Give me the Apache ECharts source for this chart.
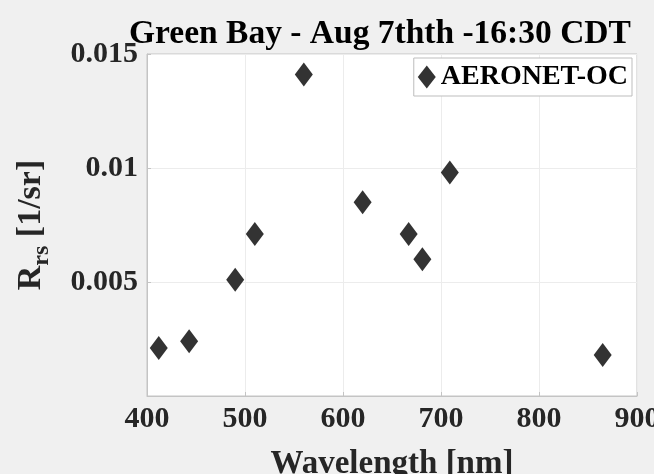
<!DOCTYPE html>
<html>
<head>
<meta charset="utf-8">
<script src="https://cdn.jsdelivr.net/npm/echarts@6/dist/echarts.min.js"></script>
<style>
html,body{margin:0;padding:0;background:#f0f0f0;}
#chart{width:654px;height:474px;}
</style>
</head>
<body>
<div id="chart"></div>
<script>
var wavelengths = [412, 443, 490, 510, 560, 620, 667, 681, 709, 865];
var rrsValues = [0.0021, 0.0024, 0.0051, 0.0071, 0.0141, 0.0085, 0.0071, 0.0060, 0.0098, 0.0018];
var seriesName = 'AERONET-OC';
var titleText = 'Green Bay - Aug 7thth -16:30 CDT';
var xTicks = [400, 500, 600, 700, 800, 900];
var yTicks = [0, 0.005, 0.01, 0.015];

var points = wavelengths.map(function (w, i) { return [w, rrsValues[i]]; });
var font = '"Liberation Serif", "Times New Roman", serif';

var chart = echarts.init(document.getElementById('chart'), null, {renderer: 'canvas'});
chart.setOption({
  backgroundColor: '#f0f0f0',
  animation: false,
  title: {
    text: titleText,
    left: 129,
    top: 17,
    padding: 0,
    textStyle: {fontFamily: font, fontWeight: 'bold', fontSize: 33.5, color: '#000'}
  },
  legend: {
    data: [seriesName],
    right: 22,
    top: 58,
    icon: 'diamond',
    itemWidth: 18,
    itemHeight: 23,
    padding: [5, 4, 5, 4],
    backgroundColor: '#fff',
    borderColor: '#bdbdbd',
    borderWidth: 1,
    borderRadius: 0,
    itemStyle: {opacity: 1},
    textStyle: {fontFamily: font, fontWeight: 'bold', fontSize: 28, color: '#000'}
  },
  grid: {
    left: 147, right: 17, top: 54, bottom: 78,
    outerBoundsMode: 'none',
    containLabel: false,
    show: true, backgroundColor: '#fff', borderColor: '#c4c4c4', borderWidth: 1
  },
  xAxis: {
    type: 'value',
    min: xTicks[0], max: xTicks[xTicks.length - 1], interval: 100,
    name: 'Wavelength [nm]',
    nameLocation: 'middle',
    nameGap: 52,
    nameTextStyle: {fontFamily: font, fontWeight: 'bold', fontSize: 33, color: '#262626'},
    axisLine: {show: true, lineStyle: {color: '#c4c4c4'}},
    axisTick: {show: true, inside: true, length: 4, lineStyle: {color: '#c4c4c4'}},
    axisLabel: {fontFamily: font, fontWeight: 'bold', fontSize: 30, color: '#262626', margin: 8},
    splitLine: {show: true, lineStyle: {color: '#ececec'}}
  },
  yAxis: {
    type: 'value',
    min: yTicks[0], max: yTicks[yTicks.length - 1], interval: 0.005,
    name: '{b|R}{s|rs}{b| [1/sr]}',
    nameLocation: 'middle',
    nameRotate: 90,
    nameGap: 93,
    nameTextStyle: {
      fontFamily: font, fontWeight: 'bold', color: '#262626',
      rich: {
        b: {fontFamily: font, fontWeight: 'bold', fontSize: 34, color: '#262626', lineHeight: 46, verticalAlign: 'middle'},
        s: {fontFamily: font, fontWeight: 'bold', fontSize: 24, color: '#262626', lineHeight: 24, verticalAlign: 'bottom'}
      }
    },
    axisLine: {show: true, lineStyle: {color: '#c4c4c4'}},
    axisTick: {show: true, inside: true, length: 4, lineStyle: {color: '#c4c4c4'}},
    axisLabel: {
      fontFamily: font, fontWeight: 'bold', fontSize: 30, color: '#262626', margin: 9,
      formatter: function (v) { return v === 0 ? '' : String(+v.toFixed(4)); }
    },
    splitLine: {show: true, lineStyle: {color: '#ececec'}}
  },
  series: [{
    name: seriesName,
    type: 'scatter',
    symbol: 'diamond',
    symbolSize: [18, 24],
    itemStyle: {color: '#333333', opacity: 1},
    data: points
  }]
});
</script>
</body>
</html>
